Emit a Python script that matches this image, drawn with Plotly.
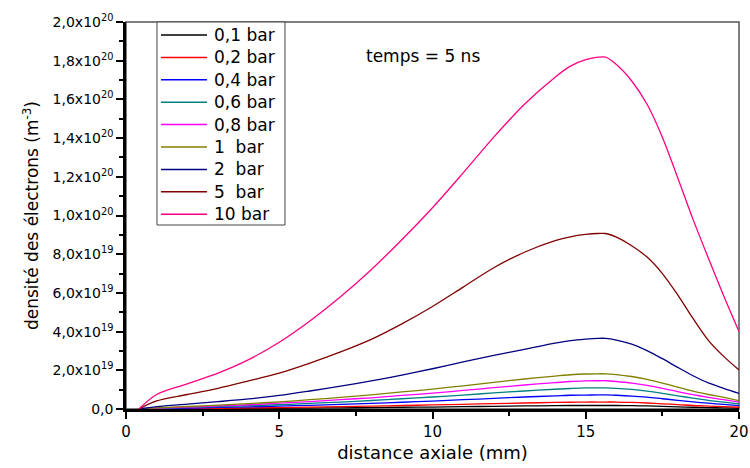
import plotly.graph_objects as go

# Axial positions (mm) shared by all curves
x_mm = [0.42, 1, 2, 3, 4, 5, 6, 7, 8, 9, 10, 11, 12, 13, 14, 14.5, 15, 15.4, 15.65,
        16, 16.5, 17, 17.5, 18, 18.5, 19, 19.5, 20]

# Electron density, in units of 1e19 m^-3, one list per pressure
n_01 = [0, 0.01, 0.01, 0.02, 0.03, 0.04, 0.05, 0.06, 0.07, 0.09, 0.10, 0.12, 0.14, 0.16, 0.17,
        0.18, 0.18, 0.18, 0.18, 0.18, 0.17, 0.16, 0.14, 0.11, 0.09, 0.07, 0.06, 0.04]
n_02 = [0, 0.01, 0.03, 0.04, 0.06, 0.07, 0.10, 0.12, 0.15, 0.18, 0.21, 0.24, 0.28, 0.31, 0.34,
        0.35, 0.36, 0.36, 0.36, 0.36, 0.34, 0.31, 0.27, 0.23, 0.18, 0.15, 0.12, 0.09]
n_04 = [0, 0.02, 0.05, 0.08, 0.11, 0.15, 0.19, 0.24, 0.29, 0.35, 0.41, 0.48, 0.55, 0.62, 0.68,
        0.71, 0.72, 0.73, 0.73, 0.71, 0.67, 0.61, 0.53, 0.45, 0.37, 0.30, 0.24, 0.17]
n_06 = [0, 0.04, 0.08, 0.12, 0.17, 0.22, 0.29, 0.36, 0.44, 0.53, 0.62, 0.72, 0.83, 0.93, 1.02,
        1.06, 1.09, 1.09, 1.09, 1.07, 1.01, 0.92, 0.81, 0.68, 0.56, 0.45, 0.36, 0.26]
n_08 = [0, 0.05, 0.10, 0.16, 0.22, 0.30, 0.38, 0.48, 0.58, 0.70, 0.82, 0.96, 1.10, 1.24, 1.36,
        1.42, 1.45, 1.46, 1.46, 1.42, 1.34, 1.22, 1.07, 0.90, 0.74, 0.60, 0.48, 0.35]
n_1 = [0, 0.06, 0.13, 0.20, 0.28, 0.37, 0.48, 0.60, 0.73, 0.88, 1.03, 1.20, 1.38, 1.55, 1.70,
       1.77, 1.81, 1.82, 1.82, 1.78, 1.68, 1.53, 1.34, 1.13, 0.92, 0.75, 0.60, 0.43]
n_2 = [0, 0.12, 0.25, 0.38, 0.52, 0.70, 0.93, 1.18, 1.45, 1.75, 2.08, 2.43, 2.77, 3.08, 3.40,
       3.53, 3.61, 3.65, 3.65, 3.56, 3.35, 3.02, 2.60, 2.15, 1.72, 1.35, 1.07, 0.81]
n_5 = [0, 0.42, 0.75, 1.07, 1.45, 1.85, 2.37, 2.95, 3.60, 4.40, 5.30, 6.30, 7.30, 8.10, 8.70,
       8.90, 9.02, 9.07, 9.07, 8.88, 8.44, 7.85, 7.00, 5.90, 4.68, 3.55, 2.72, 2.02]
n_10 = [0, 0.75, 1.30, 1.85, 2.55, 3.45, 4.55, 5.80, 7.20, 8.75, 10.4, 12.2, 14.05, 15.75, 17.15,
        17.72, 18.05, 18.18, 18.18, 17.80, 16.95, 15.75, 14.05, 11.95, 9.80, 7.80, 5.85, 4.00]

series_names = ["0,1 bar", "0,2 bar", "0,4 bar", "0,6 bar", "0,8 bar",
                "1\u00a0\u00a0bar", "2\u00a0\u00a0bar", "5\u00a0\u00a0bar", "10 bar"]
series_values = [n_01, n_02, n_04, n_06, n_08, n_1, n_2, n_5, n_10]
series_colors = ["#000000", "#FF0000", "#0000FF", "#008080", "#FF00FF",
                 "#808000", "#000080", "#800000", "#FF0080"]

# Y tick labels (values in 1e19 m^-3)
y_tickvals = [0, 2, 4, 6, 8, 10, 12, 14, 16, 18, 20]
y_ticktext = ["0,0", "2,0x10<sup>19</sup>", "4,0x10<sup>19</sup>", "6,0x10<sup>19</sup>",
              "8,0x10<sup>19</sup>", "1,0x10<sup>20</sup>", "1,2x10<sup>20</sup>",
              "1,4x10<sup>20</sup>", "1,6x10<sup>20</sup>", "1,8x10<sup>20</sup>",
              "2,0x10<sup>20</sup>"]
x_tickvals = [0, 5, 10, 15, 20]

FONT = "DejaVu Sans"
W, H = 750, 468
M_L, M_R, M_T, M_B = 126, 11, 22, 59
PLOT_W = W - M_L - M_R
PLOT_H = H - M_T - M_B


def px_x(px):
    """Horizontal pixel position -> paper fraction."""
    return (px - M_L) / PLOT_W


def px_y(py):
    """Vertical pixel position (from top) -> paper fraction."""
    return (H - M_B - py) / PLOT_H


fig = go.Figure()
for name, vals, col in zip(series_names, series_values, series_colors):
    fig.add_trace(go.Scatter(
        x=x_mm, y=vals, name=name, mode="lines", showlegend=False,
        line=dict(color=col, width=1.3, shape="spline", smoothing=0.9),
    ))

# Boxed legend with long line swatches, drawn in paper space
LEG_BOX = (157, 22, 285, 225)      # left, top, right, bottom (px)
LEG_ROW0, LEG_ROW_STEP = 35, 22.4  # first row centre, row spacing (px)
LEG_LINE = (161, 207)              # swatch start / end (px)
LEG_TEXT_X = 212

shapes = [
    # thin frame round the plotting area
    dict(type="rect", xref="paper", yref="paper", x0=0, y0=0, x1=1, y1=1,
         line=dict(color="#555555", width=1.5), layer="below"),
    dict(type="rect", xref="paper", yref="paper",
         x0=px_x(LEG_BOX[0]), y0=px_y(LEG_BOX[3]), x1=px_x(LEG_BOX[2]), y1=px_y(LEG_BOX[1]),
         line=dict(color="#444444", width=1), fillcolor="white", layer="above"),
]
annotations = [dict(text="temps = 5 ns", xref="paper", yref="paper", x=0.485, y=0.943,
                    showarrow=False, font=dict(family=FONT, size=17, color="black"))]

for i, (name, col) in enumerate(zip(series_names, series_colors)):
    yc = px_y(LEG_ROW0 + i * LEG_ROW_STEP)
    shapes.append(dict(type="line", xref="paper", yref="paper",
                       x0=px_x(LEG_LINE[0]), x1=px_x(LEG_LINE[1]), y0=yc, y1=yc,
                       line=dict(color=col, width=1.5), layer="above"))
    annotations.append(dict(text=name, xref="paper", yref="paper",
                            x=px_x(LEG_TEXT_X), y=yc, xanchor="left", yanchor="middle",
                            showarrow=False, font=dict(family=FONT, size=17, color="black")))

fig.update_layout(
    width=W, height=H,
    margin=dict(l=M_L, r=M_R, t=M_T, b=M_B),
    paper_bgcolor="white", plot_bgcolor="white",
    font=dict(family=FONT, color="black", size=14),
    showlegend=False,
    xaxis=dict(
        range=[0, 20], tickvals=x_tickvals, ticktext=[str(v) for v in x_tickvals],
        automargin=False,
        showgrid=False, zeroline=False,
        showline=True, linecolor="black", linewidth=2.5,
        ticks="outside", ticklen=7, tickwidth=2, tickcolor="black",
        minor=dict(dtick=2.5, ticks="outside", ticklen=4, tickwidth=1.5, tickcolor="black"),
        tickfont=dict(size=15),
        title=dict(text="distance axiale (mm)", font=dict(size=18), standoff=7),
    ),
    yaxis=dict(
        range=[0, 20], tickmode="array", tickvals=y_tickvals, ticktext=y_ticktext,
        automargin=False,
        showgrid=False, zeroline=False,
        showline=True, linecolor="black", linewidth=2.5,
        ticks="outside", ticklen=7, tickwidth=2, tickcolor="black",
        minor=dict(dtick=1, ticks="outside", ticklen=4, tickwidth=1.5, tickcolor="black"),
        tickfont=dict(size=14),
        title=dict(text="densité des électrons (m<sup>-3</sup>)", font=dict(size=17), standoff=10),
    ),
    shapes=shapes,
    annotations=annotations,
)

fig.write_html("out.html")
